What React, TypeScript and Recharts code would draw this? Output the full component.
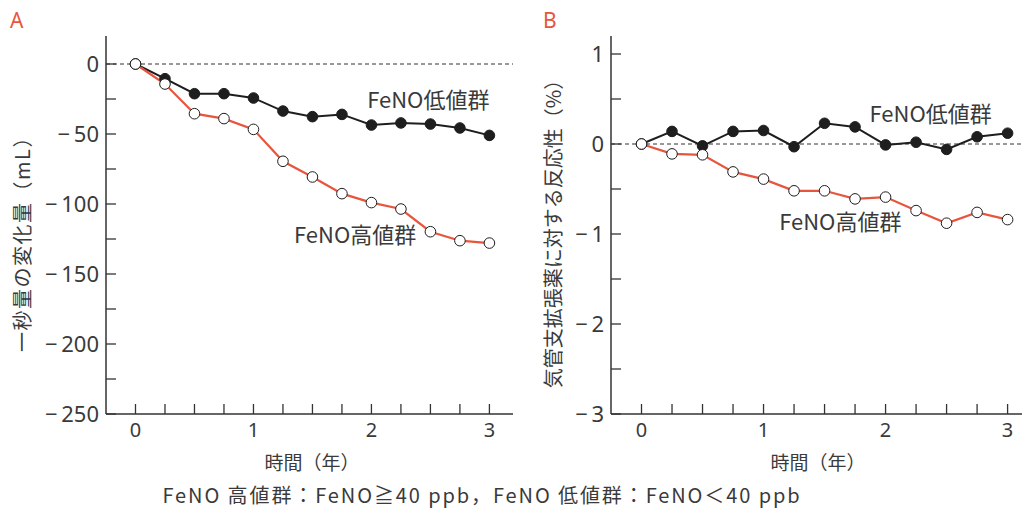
import React from 'react';
import { LineChart, Line, XAxis, YAxis, ReferenceLine, ReferenceDot } from 'recharts';

// Follow-up time points (years)
const years = [0, 0.25, 0.5, 0.75, 1, 1.25, 1.5, 1.75, 2, 2.25, 2.5, 2.75, 3];

// A: change in FEV1 (mL)
const fev1Low = [0, -10.5, -21.2, -21.2, -24.3, -33.6, -37.6, -36, -43.6, -42.1, -42.9, -45.7, -51];
const fev1High = [0, -14.3, -35.5, -39, -46.7, -69.5, -80.7, -92.6, -99, -103.6, -119.8, -126.2, -127.9];

// B: bronchodilator responsiveness (%)
const bdrLow = [0, 0.14, -0.02, 0.14, 0.15, -0.03, 0.23, 0.19, -0.01, 0.02, -0.06, 0.08, 0.12];
const bdrHigh = [0, -0.11, -0.12, -0.31, -0.39, -0.52, -0.52, -0.61, -0.59, -0.74, -0.88, -0.76, -0.84];

// Axis ticks (minor ticks are drawn without labels)
const xTicks = [0, 0.25, 0.5, 0.75, 1, 1.25, 1.5, 1.75, 2, 2.25, 2.5, 2.75, 3];
const fev1Ticks = [-250, -225, -200, -175, -150, -125, -100, -75, -50, -25, 0];
const bdrTicks = [-3, -2.5, -2, -1.5, -1, -0.5, 0, 0.5, 1];

const LOW_LABEL = 'FeNO低値群';
const HIGH_LABEL = 'FeNO高値群';

const FONT = "'Noto Sans CJK JP', 'Noto Sans', sans-serif";
const NUM_FONT = "'Noto Sans', 'Noto Sans CJK JP', sans-serif";
const INK = '#3a3a3a';
const AXIS = '#333333';
const RED = '#e8553d';

const dataA = years.map((year, i) => ({ year, low: fev1Low[i], high: fev1High[i] }));
const dataB = years.map((year, i) => ({ year, low: bdrLow[i], high: bdrHigh[i] }));

const fmt = (v: number) => (v < 0 ? `\u2212\u2009${Math.abs(v)}` : `${v}`);

const YTick = (props: any) => {
  const { x, y, payload, step } = props;
  const v = payload.value as number;
  const labelled = Math.abs(v / step - Math.round(v / step)) < 1e-9;
  return (
    <g>
      <line x1={x} y1={y} x2={x + 10} y2={y} stroke={AXIS} strokeWidth={1.3} />
      {labelled && (
        <text x={x - 7} y={y} dy="0.36em" textAnchor="end" fontSize={22} fill={INK} fontFamily={NUM_FONT}>
          {fmt(v)}
        </text>
      )}
    </g>
  );
};

const XTick = (props: any) => {
  const { x, y, payload } = props;
  const v = payload.value as number;
  const labelled = Number.isInteger(v);
  return (
    <g>
      <line x1={x} y1={y} x2={x} y2={y - 10} stroke={AXIS} strokeWidth={1.3} />
      {labelled && (
        <text x={x} y={y + 23} textAnchor="middle" fontSize={20} fill={INK} fontFamily={NUM_FONT}>
          {v}
        </text>
      )}
    </g>
  );
};

const GroupLabel = (props: any) => {
  const { viewBox, value } = props;
  return (
    <text x={viewBox.x} y={viewBox.y} dy="0.36em" textAnchor="end" fontSize={22} fill={INK} fontFamily={FONT}>
      {value}
    </text>
  );
};

const filledDot = { r: 5.3, fill: '#1e1e1e', stroke: '#1e1e1e', strokeWidth: 1 };
const openDot = { r: 5.3, fill: '#ffffff', stroke: '#1e1e1e', strokeWidth: 1 };

type PanelProps = {
  data: any[];
  left: number;
  marginLeft: number;
  marginRight: number;
  domain: [number, number];
  ticks: number[];
  step: number;
  lowAt: [number, number];
  highAt: [number, number];
};

const Panel = ({ data, left, marginLeft, marginRight, domain, ticks, step, lowAt, highAt }: PanelProps) => (
  <div style={{ position: 'absolute', left, top: 0 }}>
    <LineChart width={520} height={517} data={data} margin={{ top: 36, right: marginRight, bottom: 73, left: marginLeft }}>
      <XAxis
        type="number"
        dataKey="year"
        domain={[-0.25, 3.2]}
        ticks={xTicks}
        allowDataOverflow
        height={30}
        tickSize={0}
        tickMargin={0}
        tickLine={false}
        interval={0}
        axisLine={{ stroke: AXIS, strokeWidth: 1.5 }}
        tick={<XTick />}
      />
      <YAxis
        type="number"
        domain={domain}
        ticks={ticks}
        allowDataOverflow
        width={60}
        tickSize={0}
        tickMargin={0}
        tickLine={false}
        interval={0}
        axisLine={{ stroke: AXIS, strokeWidth: 1.5 }}
        tick={<YTick step={step} />}
      />
      <ReferenceLine y={0} stroke={AXIS} strokeWidth={1} strokeDasharray="4 3" />
      <Line dataKey="low" stroke="#1e1e1e" strokeWidth={2} dot={filledDot} isAnimationActive={false} />
      <Line dataKey="high" stroke={RED} strokeWidth={2.2} dot={openDot} isAnimationActive={false} />
      <ReferenceDot x={lowAt[0]} y={lowAt[1]} r={0} fill="none" stroke="none" ifOverflow="visible" label={<GroupLabel value={LOW_LABEL} />} />
      <ReferenceDot x={highAt[0]} y={highAt[1]} r={0} fill="none" stroke="none" ifOverflow="visible" label={<GroupLabel value={HIGH_LABEL} />} />
    </LineChart>
  </div>
);

const txt = { fontFamily: FONT, fill: INK } as const;

export default function App() {
  return (
    <div style={{ position: 'absolute', left: 0, top: 0, width: 1022, height: 517, overflow: 'hidden', background: '#fff' }}>
      <Panel data={dataA} left={0} marginLeft={46} marginRight={7} domain={[-250, 20]} ticks={fev1Ticks} step={50} lowAt={[3, -25.7]} highAt={[2.38, -122]} />
      <Panel data={dataB} left={520} marginLeft={31} marginRight={8} domain={[-3, 1.2]} ticks={bdrTicks} step={1} lowAt={[2.87, 0.33]} highAt={[2.13, -0.867]} />
      <svg width={1022} height={517} style={{ position: 'absolute', left: 0, top: 0, pointerEvents: 'none' }}>
        <text x={10} y={28} fontSize={21} fill={RED} fontFamily={NUM_FONT}>A</text>
        <text x={543} y={28} fontSize={21} fill={RED} fontFamily={NUM_FONT}>B</text>
        <text {...txt} x={23} y={239} fontSize={20} letterSpacing={1.5} textAnchor="middle" dy="0.36em" transform="rotate(-90 23 239)">一秒量の変化量（mL）</text>
        <text {...txt} x={554} y={229} fontSize={20} textAnchor="middle" dy="0.36em" transform="rotate(-90 554 229)">気管支拡張薬に対する反応性（%）</text>
        <text {...txt} x={312} y={470} fontSize={19} textAnchor="middle">時間（年）</text>
        <text {...txt} x={818} y={470} fontSize={19} textAnchor="middle">時間（年）</text>
        <text {...txt} x={482} y={503} fontSize={20} letterSpacing={1.9} textAnchor="middle">FeNO 高値群：FeNO≧40 ppb，FeNO 低値群：FeNO＜40 ppb</text>
      </svg>
    </div>
  );
}
